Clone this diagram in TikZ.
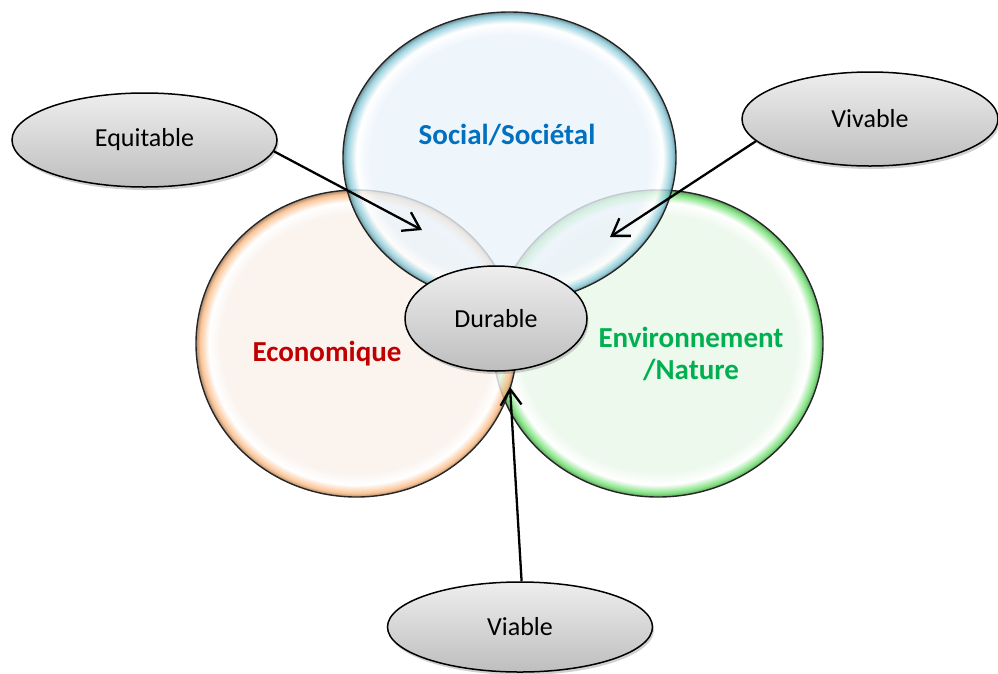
\documentclass[tikz,border=0pt]{standalone}
\usepackage{fontspec}
\setmainfont{Carlito}
\usetikzlibrary{shapes.geometric,arrows.meta,shadows}

\definecolor{blueIn}{RGB}{234,243,250}
\definecolor{blueRim}{RGB}{130,198,214}
\definecolor{orIn}{RGB}{249,240,234}
\definecolor{orRim}{RGB}{250,182,125}
\definecolor{grIn}{RGB}{234,247,234}
\definecolor{grRim}{RGB}{100,220,100}
\definecolor{txtBlue}{RGB}{0,112,192}
\definecolor{txtRed}{RGB}{192,0,0}
\definecolor{txtGreen}{RGB}{0,176,80}
\definecolor{ovalTop}{RGB}{238,238,238}
\definecolor{ovalBot}{RGB}{190,190,190}

\pgfdeclareradialshading{bubbleBlue}{\pgfpoint{0bp}{0bp}}{color(0bp)=(blueIn); color(21bp)=(blueIn); color(23bp)=(white); color(24.4bp)=(blueRim); color(25bp)=(blueRim!60!black); color(50bp)=(blueRim!60!black)}
\pgfdeclareradialshading{bubbleOr}{\pgfpoint{0bp}{0bp}}{color(0bp)=(orIn); color(21bp)=(orIn); color(23bp)=(white); color(24.4bp)=(orRim); color(25bp)=(orRim!60!black); color(50bp)=(orRim!60!black)}
\pgfdeclareradialshading{bubbleGr}{\pgfpoint{0bp}{0bp}}{color(0bp)=(grIn); color(21bp)=(grIn); color(23bp)=(white); color(24.4bp)=(grRim); color(25bp)=(grRim!60!black); color(50bp)=(grRim!60!black)}

\tikzset{
  bubble/.style={ellipse, inner sep=0pt, draw=black!85, line width=1.4pt, fill opacity=0.8, draw opacity=1},
  circtext/.style={font=\bfseries\fontsize{29}{32}\selectfont, align=center, inner sep=0pt},
  oval/.style={ellipse, draw=black, line width=1.5pt, top color=ovalTop, bottom color=ovalBot,
    drop shadow={shadow xshift=1.5pt, shadow yshift=-3pt, opacity=0.3, fill=black!60},
    font=\fontsize{26}{30}\selectfont, inner sep=0pt},
  arr/.style={line width=2.3pt, -{Straight Barb[length=16pt,width=21pt,line width=2.3pt]}}
}

\begin{document}
\begin{tikzpicture}[x=1pt,y=-1pt]
\useasboundingbox (0,0) rectangle (998,673);

% the three pillars
\node[bubble, shading=bubbleGr, minimum width=330pt, minimum height=307pt] (env) at (658,343.5) {};
\node[bubble, shading=bubbleOr, minimum width=321pt, minimum height=307pt] (eco) at (356.5,343.5) {};
\node[bubble, shading=bubbleBlue, minimum width=333pt, minimum height=291pt] (soc) at (509.5,157.5) {};

\node[circtext, text=txtBlue] (socT) at (507,135) {Social/Sociétal};
\node[circtext, text=txtRed] (ecoT) at (327,354) {Economique};
\node[circtext, text=txtGreen] (envT) at (691,354) {Environnement\\/Nature};

% qualifiers
\node[oval, minimum width=265pt, minimum height=94pt] (equ) at (144.5,140) {Equitable};
\node[oval, minimum width=256pt, minimum height=94pt] (viv) at (870,119) {Vivable};
\node[oval, minimum width=182pt, minimum height=105pt] (dur) at (496,318.5) {Durable};
\node[oval, minimum width=265pt, minimum height=90pt] (via) at (520,627) {Viable};

% arrows
\coordinate (equTip) at (422,230);
\coordinate (vivTip) at (610,237);
\coordinate (viaTip) at (510,387);
\draw[arr] (equ.-5) -- (equTip);
\draw[arr] (viv.191) -- (vivTip);
\draw[arr] (via.88) -- (viaTip);
\end{tikzpicture}
\end{document}
